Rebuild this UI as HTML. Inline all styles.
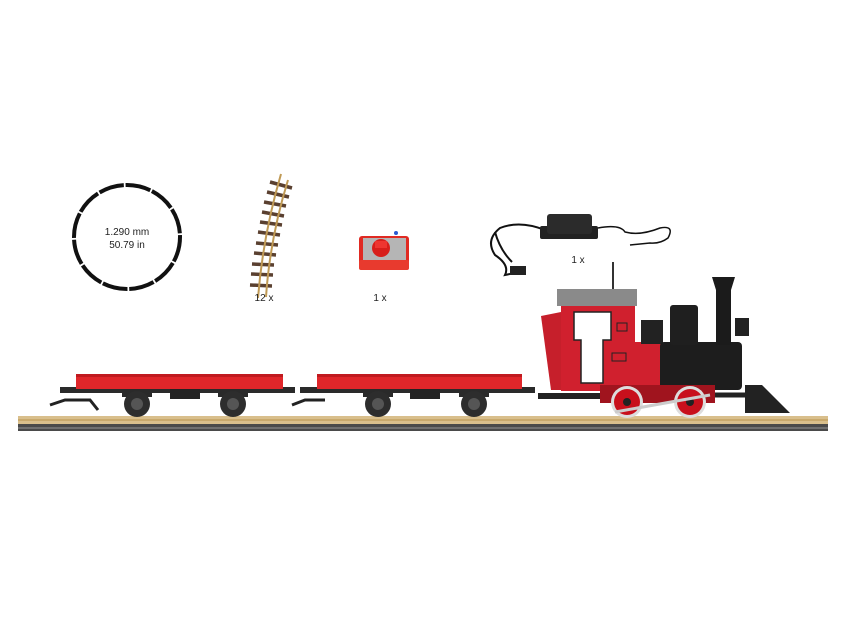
<!DOCTYPE html>
<html><head><meta charset="utf-8"><style>
html,body{margin:0;padding:0;background:#fff;}
svg{display:block}
text{font-family:"Liberation Sans",sans-serif;fill:#222}
</style></head><body>
<svg width="846" height="634" viewBox="0 0 846 634" xmlns="http://www.w3.org/2000/svg">
<!-- circle -->
<ellipse cx="127" cy="237" rx="53" ry="52" fill="none" stroke="#111" stroke-width="4" stroke-dasharray="25.5 1.8"/>
<text x="127" y="235" font-size="10" text-anchor="middle">1.290 mm</text>
<text x="127" y="248" font-size="10" text-anchor="middle">50.79 in</text>
<!-- curved track -->
<g>
<g stroke="#5a4030" stroke-width="3.5">
<line x1="270" y1="182" x2="292" y2="188"/><line x1="267" y1="192" x2="289" y2="197"/>
<line x1="264" y1="202" x2="286" y2="206"/><line x1="262" y1="212" x2="284" y2="216"/>
<line x1="260" y1="222" x2="282" y2="225"/><line x1="258" y1="232" x2="280" y2="235"/>
<line x1="256" y1="243" x2="278" y2="245"/><line x1="254" y1="253" x2="276" y2="255"/>
<line x1="252" y1="264" x2="274" y2="265"/><line x1="251" y1="274" x2="273" y2="275"/>
<line x1="250" y1="285" x2="272" y2="286"/>
</g>
<path d="M281 174 Q263 235 258 298" stroke="#c09a55" stroke-width="2" fill="none"/>
<path d="M288 180 Q270 238 266 297" stroke="#c09a55" stroke-width="2" fill="none"/>
</g>
<text x="264" y="301" font-size="10" text-anchor="middle">12 x</text>
<!-- controller -->
<rect x="359" y="236" width="50" height="34" rx="3" fill="#e02a22"/>
<rect x="363" y="238" width="43" height="22" fill="#b5b5b5"/>
<rect x="359" y="260" width="50" height="10" rx="2" fill="#e83a2e"/>
<circle cx="381" cy="248" r="9" fill="#d81e1a"/>
<rect x="375" y="241" width="12" height="7" fill="#ee3530"/>
<circle cx="396" cy="233" r="2" fill="#2a5ad0"/>
<text x="380" y="301" font-size="10" text-anchor="middle">1 x</text>
<!-- power supply -->
<path d="M545 230 Q520 220 500 228 Q485 240 495 255 Q510 265 505 275 L520 272" stroke="#111" stroke-width="2" fill="none"/>
<path d="M495 232 Q500 250 512 262" stroke="#111" stroke-width="2" fill="none"/>
<rect x="510" y="266" width="16" height="9" fill="#222"/>
<rect x="540" y="226" width="58" height="13" rx="2" fill="#222"/>
<rect x="547" y="214" width="45" height="20" rx="3" fill="#2b2b2b"/>
<path d="M598 228 Q620 224 625 232 Q640 236 660 228 Q675 225 668 238 Q660 244 650 243 L630 245" stroke="#111" stroke-width="1.5" fill="none"/>
<text x="578" y="263" font-size="10" text-anchor="middle">1 x</text>
<!-- track -->
<rect x="18" y="416" width="810" height="8" fill="#d9bf8c"/>
<rect x="18" y="419" width="810" height="2" fill="#c9a96c"/>
<rect x="18" y="424" width="810" height="7" fill="#4a4a4a"/>
<rect x="18" y="427" width="810" height="2" fill="#707070"/>
<!-- wagon 1 -->
<g>
<rect x="60" y="387" width="235" height="6" fill="#2a2a2a"/>
<rect x="76" y="374" width="207" height="15" fill="#e0262a"/>
<rect x="76" y="374" width="207" height="3" fill="#c01a1f"/>
<rect x="170" y="389" width="30" height="10" fill="#222"/>
<rect x="122" y="389" width="30" height="8" fill="#2a2a2a"/>
<rect x="218" y="389" width="30" height="8" fill="#2a2a2a"/>
<circle cx="137" cy="404" r="13" fill="#2d2d2d"/><circle cx="137" cy="404" r="6" fill="#555"/>
<circle cx="233" cy="404" r="13" fill="#2d2d2d"/><circle cx="233" cy="404" r="6" fill="#555"/>
<path d="M50 405 L65 400 L90 400 L98 410" stroke="#222" stroke-width="3" fill="none"/>
</g>
<!-- wagon 2 -->
<g>
<rect x="300" y="387" width="235" height="6" fill="#2a2a2a"/>
<rect x="317" y="374" width="205" height="15" fill="#e0262a"/>
<rect x="317" y="374" width="205" height="3" fill="#c01a1f"/>
<rect x="410" y="389" width="30" height="10" fill="#222"/>
<rect x="363" y="389" width="30" height="8" fill="#2a2a2a"/>
<rect x="459" y="389" width="30" height="8" fill="#2a2a2a"/>
<circle cx="378" cy="404" r="13" fill="#2d2d2d"/><circle cx="378" cy="404" r="6" fill="#555"/>
<circle cx="474" cy="404" r="13" fill="#2d2d2d"/><circle cx="474" cy="404" r="6" fill="#555"/>
<path d="M292 405 L305 400 L325 400" stroke="#222" stroke-width="3" fill="none"/>
</g>
<!-- loco -->
<g>
<rect x="538" y="393" width="80" height="6" fill="#222"/>
<rect x="612" y="262" width="2" height="27" fill="#333"/>
<path d="M541 316 L561 312 L561 390 L551 390 Z" fill="#c61f2b"/>
<rect x="557" y="289" width="80" height="17" fill="#8a8a8a"/>
<rect x="561" y="306" width="74" height="85" fill="#d0202e"/>
<path d="M574 312 H611 V340 H603 V383 H581 V340 H574 Z" fill="#fff" stroke="#222" stroke-width="1.5"/>
<rect x="617" y="323" width="10" height="8" fill="none" stroke="#222"/>
<rect x="612" y="353" width="14" height="8" fill="none" stroke="#222"/>
<rect x="635" y="342" width="28" height="49" fill="#d0202e"/>
<rect x="641" y="320" width="22" height="24" fill="#222"/>
<rect x="660" y="342" width="82" height="48" rx="4" fill="#1d1d1d"/>
<rect x="670" y="305" width="28" height="40" rx="3" fill="#1f1f1f"/>
<path d="M712 277 H735 L731 290 V345 H716 V290 Z" fill="#1b1b1b"/>
<rect x="735" y="318" width="14" height="18" fill="#222"/>
<rect x="600" y="385" width="115" height="18" fill="#a0141e"/>
<circle cx="627" cy="402" r="16" fill="#ddd"/><circle cx="627" cy="402" r="13" fill="#c8101c"/><circle cx="627" cy="402" r="4" fill="#222"/>
<circle cx="690" cy="402" r="16" fill="#ddd"/><circle cx="690" cy="402" r="13" fill="#c8101c"/><circle cx="690" cy="402" r="4" fill="#222"/>
<path d="M615 412 L710 395" stroke="#ccc" stroke-width="3"/>
<path d="M745 385 L762 385 L790 413 L745 413 Z" fill="#222"/>
<path d="M715 395 L745 395" stroke="#222" stroke-width="5"/>
</g>
</svg>
</body></html>
